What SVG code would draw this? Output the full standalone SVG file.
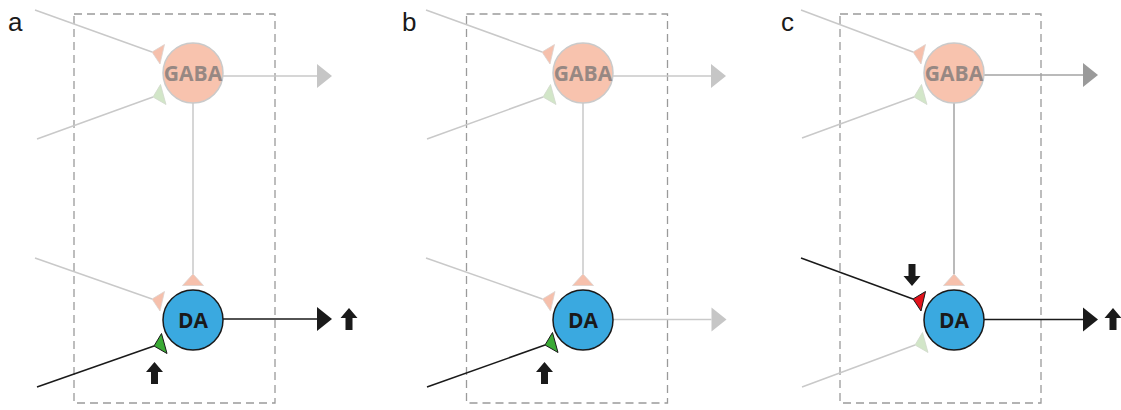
<svg xmlns="http://www.w3.org/2000/svg" xmlns:xlink="http://www.w3.org/1999/xlink" width="1121" height="410" viewBox="0 0 1121 410">
<style>
.lbl{font-family:"Liberation Sans",Arial,sans-serif;font-size:26px;fill:#1a1a1a}
.ntxt{font-family:"Open Sans","DejaVu Sans",sans-serif;font-size:21px;font-weight:700;text-anchor:middle}
.box{fill:none;stroke:#9a9a9a;stroke-width:1.3;stroke-dasharray:8 5}
.gaba{fill:#f8c3ae;stroke:#cacaca;stroke-width:1.5}
.gt{fill:#978883}
.da{fill:#3aa9e0;stroke:#1a1a1a;stroke-width:1.5}
.dt{fill:#1a1a1a}
.lt{stroke:#c9c9c9;stroke-width:1.5;fill:none}
.md{stroke:#a3a3a3;stroke-width:1.5;fill:none}
.bk{stroke:#1a1a1a;stroke-width:1.5;fill:none}
.hl{fill:#c6c6c6}
.hm{fill:#9a9a9a}
.hb{fill:#1a1a1a}
.sal{fill:#f6c0ac;stroke:#dcd2ce;stroke-width:0.8}
.lgr{fill:#d2e6c8;stroke:#d0d8cc;stroke-width:0.8}
.grn{fill:#3aaa35;stroke:#1a1a1a;stroke-width:1}
.red{fill:#e3121b;stroke:#1a1a1a;stroke-width:1}
</style>
<defs>
<polygon id="tl" points="0,0 12.5,-7.5 8,12"/>
<polygon id="bl" points="0,0 7.5,-12.5 13,7.5"/>
<polygon id="tp" points="0,0 -10.5,11.5 10.5,11.5"/>
<polygon id="ah" points="0,-12 15,0 0,12"/>
<path id="up" d="M0,0 L8.5,10 L3.5,10 L3.5,22 L-3.5,22 L-3.5,10 L-8.5,10 Z"/>
<path id="dn" d="M0,0 L8.5,-10 L3.5,-10 L3.5,-22 L-3.5,-22 L-3.5,-10 L-8.5,-10 Z"/>
</defs>

<!-- Panel labels -->
<text class="lbl" x="8" y="31">a</text>
<text class="lbl" x="402" y="31">b</text>
<text class="lbl" x="781" y="31">c</text>

<!-- Dashed boxes -->
<rect class="box" x="74" y="14" width="201" height="389"/>
<rect class="box" x="466.5" y="14" width="201" height="389"/>
<rect class="box" x="840" y="14" width="201" height="389"/>

<g id="connectors">
  <!-- Panel a -->
  <line class="lt" x1="35" y1="10" x2="152" y2="52"/>
  <line class="lt" x1="37" y1="139" x2="153" y2="97"/>
  <line class="lt" x1="223" y1="76" x2="317" y2="76"/>
  <use xlink:href="#ah" x="317" y="76" class="hl"/>
  <line class="lt" x1="193" y1="103" x2="193" y2="274"/>
  <line class="lt" x1="35" y1="258" x2="152" y2="299"/>
  <line class="bk" x1="37" y1="387" x2="154" y2="346"/>
  <line class="bk" x1="223" y1="319" x2="317" y2="319"/>
  <use xlink:href="#ah" x="317" y="319" class="hb"/>
  <use xlink:href="#up" x="349" y="308" class="hb"/>
  <use xlink:href="#up" x="154.5" y="362" class="hb"/>

  <!-- Panel b -->
  <line class="lt" x1="426" y1="10" x2="542" y2="52"/>
  <line class="lt" x1="427" y1="139" x2="543" y2="97"/>
  <line class="lt" x1="613" y1="76" x2="711" y2="76"/>
  <use xlink:href="#ah" x="711" y="76" class="hl"/>
  <line class="lt" x1="583" y1="103" x2="583" y2="274"/>
  <line class="lt" x1="426" y1="258" x2="542.5" y2="299"/>
  <line class="bk" x1="427" y1="387" x2="545" y2="345"/>
  <line class="lt" x1="613" y1="319.5" x2="711.5" y2="319.5"/>
  <use xlink:href="#ah" x="711.5" y="319.5" class="hl"/>
  <use xlink:href="#up" x="544.5" y="362" class="hb"/>

  <!-- Panel c -->
  <line class="lt" x1="801" y1="10" x2="913" y2="52"/>
  <line class="lt" x1="802" y1="138" x2="914" y2="97"/>
  <line class="md" x1="984" y1="75" x2="1083" y2="75"/>
  <use xlink:href="#ah" x="1083" y="75" class="hm"/>
  <line class="md" x1="954" y1="103" x2="954" y2="274"/>
  <line class="bk" x1="801" y1="258" x2="913" y2="299"/>
  <line class="lt" x1="802" y1="387" x2="915" y2="345"/>
  <line class="bk" x1="984" y1="319.5" x2="1083" y2="319.5"/>
  <use xlink:href="#ah" x="1083" y="319.5" class="hb"/>
  <use xlink:href="#up" x="1113" y="308" class="hb"/>
  <use xlink:href="#dn" x="912" y="286" class="hb"/>
</g>

<!-- Synaptic terminals -->
<g id="terminals">
  <use xlink:href="#tl" x="152" y="52" class="sal"/>
  <use xlink:href="#bl" x="153" y="97" class="lgr"/>
  <use xlink:href="#tp" x="193" y="274" class="sal"/>
  <use xlink:href="#tl" x="152" y="299" class="sal"/>
  <use xlink:href="#bl" x="154" y="346" class="grn"/>

  <use xlink:href="#tl" x="542" y="52" class="sal"/>
  <use xlink:href="#bl" x="543" y="97" class="lgr"/>
  <use xlink:href="#tp" x="583" y="274" class="sal"/>
  <use xlink:href="#tl" x="542.5" y="299" class="sal"/>
  <use xlink:href="#bl" x="545" y="345" class="grn"/>

  <use xlink:href="#tl" x="913" y="52" class="sal"/>
  <use xlink:href="#bl" x="914" y="97" class="lgr"/>
  <use xlink:href="#tp" x="954" y="274" class="sal"/>
  <use xlink:href="#tl" x="913" y="299" class="red"/>
  <use xlink:href="#bl" x="915" y="345" class="lgr"/>
</g>

<!-- Nodes -->
<g id="gaba-a"><circle class="gaba" cx="193" cy="73" r="30"/><text class="ntxt gt" x="193" y="80.5">GABA</text></g>
<g id="da-a"><circle class="da" cx="193" cy="320" r="30"/><text class="ntxt dt" x="193" y="327.5">DA</text></g>
<g id="gaba-b"><circle class="gaba" cx="583" cy="73" r="30"/><text class="ntxt gt" x="583" y="80.5">GABA</text></g>
<g id="da-b"><circle class="da" cx="583" cy="320" r="30"/><text class="ntxt dt" x="583" y="327.5">DA</text></g>
<g id="gaba-c"><circle class="gaba" cx="954" cy="73" r="30"/><text class="ntxt gt" x="954" y="80.5">GABA</text></g>
<g id="da-c"><circle class="da" cx="954" cy="320" r="30"/><text class="ntxt dt" x="954" y="327.5">DA</text></g>
</svg>
